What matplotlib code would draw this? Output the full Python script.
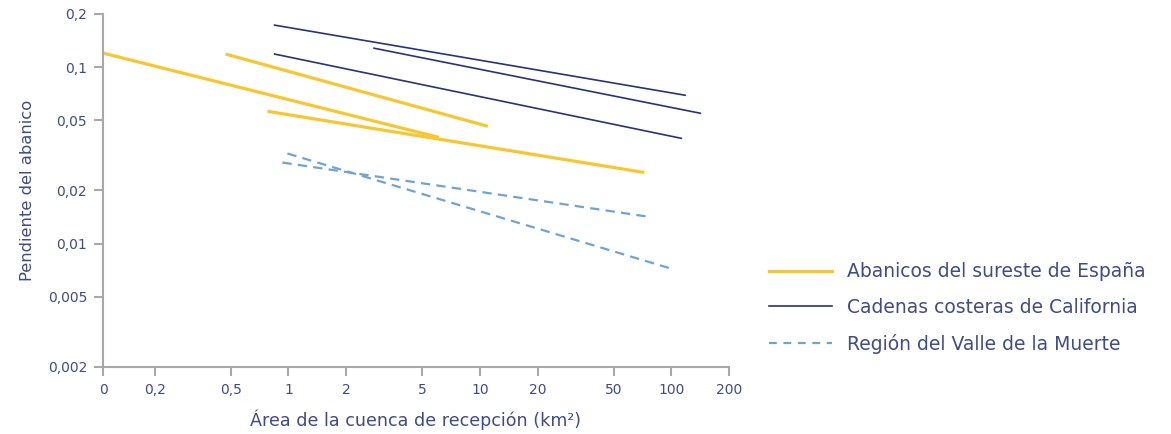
import matplotlib
matplotlib.use("Agg")
import matplotlib.pyplot as plt
from matplotlib.lines import Line2D

plt.rcParams['font.family'] = ['DejaVu Sans']

# each series: list of segments, (x start, x end), (y start, y end)
spain_x = [(0.108, 6.1), (0.47, 11.0), (0.777, 72.3)]
spain_y = [(0.120, 0.040), (0.1186, 0.0462), (0.0562, 0.0253)]

calif_x = [(0.846, 118), (2.8, 141.6), (0.846, 112.7)]
calif_y = [(0.173, 0.0693), (0.128, 0.0548), (0.1186, 0.0395)]

death_x = [(0.988, 100), (0.93, 75.9)]
death_y = [(0.0324, 0.00721), (0.0288, 0.0142)]

x_ticks = [0.1075, 0.2, 0.5, 1, 2, 5, 10, 20, 50, 100, 200]
x_labels = ['0', '0,2', '0,5', '1', '2', '5', '10', '20', '50', '100', '200']
y_ticks = [0.002, 0.005, 0.01, 0.02, 0.05, 0.1, 0.2]
y_labels = ['0,002', '0,005', '0,01', '0,02', '0,05', '0,1', '0,2']

series_names = ['Abanicos del sureste de España',
                'Cadenas costeras de California',
                'Región del Valle de la Muerte']

yellow = '#F8C630'
navy = '#27347A'
light = '#6FA3D1'
txt = '#3F4B8C'
grey = '#A8A8A8'

fig = plt.figure(figsize=(11.71, 4.34), dpi=100)
ax = fig.add_axes([103 / 1171, 1 - 367 / 434, (729 - 103) / 1171, (367 - 14) / 434])

for xs, ys in zip(spain_x, spain_y):
    ax.plot(xs, ys, color=yellow, lw=2.3, solid_capstyle='butt')
for xs, ys in zip(calif_x, calif_y):
    ax.plot(xs, ys, color=navy, lw=1.2)
for xs, ys in zip(death_x, death_y):
    ax.plot(xs, ys, color=light, lw=1.6, dashes=(4.2, 2.8))

ax.set_xscale('log')
ax.set_yscale('log')
ax.set_xlim(0.1075, 200)
ax.set_ylim(0.002, 0.2)
ax.set_xticks(x_ticks)
ax.set_xticklabels(x_labels)
ax.set_yticks(y_ticks)
ax.set_yticklabels(y_labels)
ax.minorticks_off()

for s in ['top', 'right']:
    ax.spines[s].set_visible(False)
for s in ['left', 'bottom']:
    ax.spines[s].set_color(grey)
    ax.spines[s].set_linewidth(1.5)
ax.tick_params(colors=grey, labelcolor=txt, labelsize=10, length=6.5, width=1.5)
ax.tick_params(axis='y', pad=5)
ax.tick_params(axis='x', pad=5)

ax.set_xlabel('Área de la cuenca de recepción (km²)', color=txt, fontsize=12.6, labelpad=9)
ax.set_ylabel('Pendiente del abanico', color=txt, fontsize=11.8, labelpad=9)

handles = [Line2D([], [], color=yellow, lw=2.3),
           Line2D([], [], color=navy, lw=1.2),
           Line2D([], [], color=light, lw=1.6, dashes=(3.5, 3.0))]
leg = fig.legend(handles, series_names, loc='center left',
                 bbox_to_anchor=(752 / 1171, 1 - 308 / 434),
                 frameon=False, fontsize=13.5, handlelength=3.36,
                 handletextpad=0.8, labelspacing=0.9)
for t in leg.get_texts():
    t.set_color(txt)

fig.savefig('out.png', dpi=100)
